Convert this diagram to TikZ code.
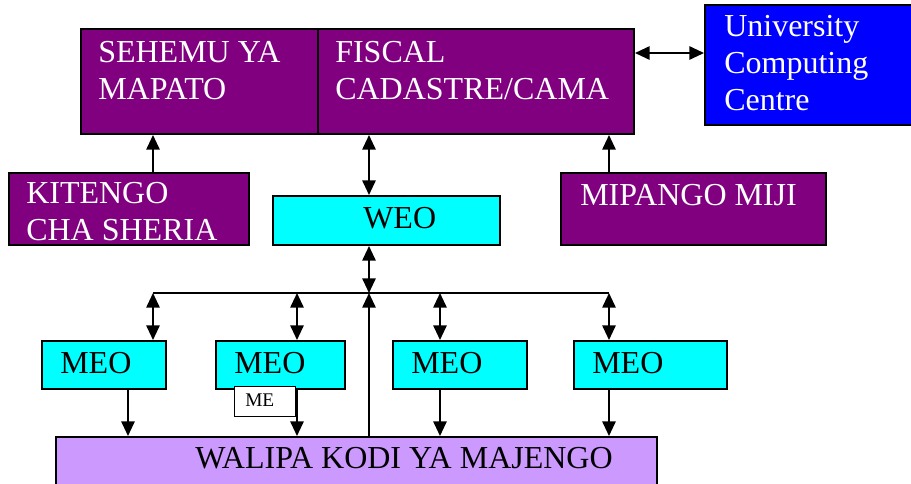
\documentclass[tikz,border=0pt]{standalone}
\usepackage{fontspec}
\setmainfont{Liberation Serif}
\usetikzlibrary{arrows.meta, fit, calc}
\definecolor{ktpurple}{HTML}{800080}
\definecolor{ktcyan}{HTML}{00FFFF}
\definecolor{ktblue}{HTML}{0000FF}
\definecolor{ktlilac}{HTML}{CC99FF}

\begin{document}
\begin{tikzpicture}[
    x=0.75pt, y=-0.75pt,
    every node/.style={font=\fontsize{24}{27.5}\selectfont},
    box/.style={draw, line width=1.5pt, inner sep=0pt},
    office/.style={box, fill=ktpurple},
    staff/.style={box, fill=ktcyan},
    txt/.style={anchor=base west, inner sep=0pt, align=left},
    wtxt/.style={txt, text=white},
    arr/.style={-{Triangle[length=11pt, width=10pt]}, line width=1.4pt},
    darr/.style={{Triangle[length=11pt, width=10pt]}-{Triangle[length=11pt, width=10pt]}, line width=1.4pt},
  ]
  \useasboundingbox (0,0) rectangle (911,483);

  % Boxes
  \node[office, fit={(81,29) (318,134)}]   (sehemu)  {};
  \node[office, fit={(318,29) (634,134)}]  (fiscal)  {};
  \node[box, fill=ktblue, fit={(705,5) (925,125)}] (ucc) {};
  \node[office, fit={(9,173) (249,245)}]   (kitengo) {};
  \node[staff, fit={(273,196) (500,245)}]  (weo)     {};
  \node[office, fit={(561,173) (826,245)}] (mipango) {};
  \node[staff, fit={(42,341) (166,389)}]   (meo1)    {};
  \node[staff, fit={(216,341) (345,389)}]  (meo2)    {};
  \node[staff, fit={(393,341) (527,389)}]  (meo3)    {};
  \node[staff, fit={(574,341) (727,389)}]  (meo4)    {};
  \node[box, fill=white, line width=0.6pt, fit={(234,386) (295,416)}] (me) {};
  \node[box, fill=ktlilac, fit={(56,437) (657,495)}] (walipa) {};

  % Texts (base = last line)
  \node[wtxt] (sehemu-t)  at (98,99.5)   {SEHEMU YA\\MAPATO};
  \node[wtxt] (fiscal-t)  at (335,99.5)  {FISCAL\\CADASTRE/CAMA};
  \node[wtxt] (ucc-t)     at (724,110)   {University\\Computing\\Centre};
  \node[wtxt] (kitengo-t) at (26,240.5)  {KITENGO\\CHA SHERIA};
  \node[txt]  (weo-t)     at (363,228)   {WEO};
  \node[wtxt] (mipango-t) at (580,205)   {MIPANGO MIJI};
  \node[txt]  (meo1-t)    at (60,373)    {MEO};
  \node[txt]  (meo2-t)    at (234,373)   {MEO};
  \node[txt]  (meo3-t)    at (411,373)   {MEO};
  \node[txt]  (meo4-t)    at (592,373)   {MEO};
  \node[txt, font=\fontsize{14.5}{16}\selectfont] (me-t) at (245,406) {ME};
  \node[txt]  (walipa-t)  at (195,468)   {WALIPA KODI YA MAJENGO};

  % Bus points
  \coordinate (b1) at (153,293);
  \coordinate (b2) at (297,293);
  \coordinate (bc) at (369,293);
  \coordinate (b3) at (440,293);
  \coordinate (b4) at (609,293);
  \coordinate (m1) at (128,0);
  \coordinate (lnk) at (0,53);

  % Connectors
  \draw[darr] (fiscal.east |- lnk) -- (ucc.west |- lnk);
  \draw[arr] (kitengo.north -| b1) -- (sehemu.south -| b1);
  \draw[arr] (mipango.north -| b4) -- (fiscal.south -| b4);
  \draw[darr] (fiscal.south -| bc) -- (weo.north -| bc);
  \draw[darr] (weo.south -| bc) -- (bc);
  \draw[line width=1.4pt] (b1) -- (b4);
  \foreach \i in {1,...,4}
    \draw[darr] (b\i) -- (meo\i.north -| b\i);
  \draw[arr] (meo1.south -| m1) -- (walipa.north -| m1);
  \draw[arr] (meo2.south -| b2) -- (walipa.north -| b2);
  \draw[arr] (meo3.south -| b3) -- (walipa.north -| b3);
  \draw[arr] (meo4.south -| b4) -- (walipa.north -| b4);
  \draw[arr] (walipa.north -| bc) -- (bc);
\end{tikzpicture}
\end{document}
